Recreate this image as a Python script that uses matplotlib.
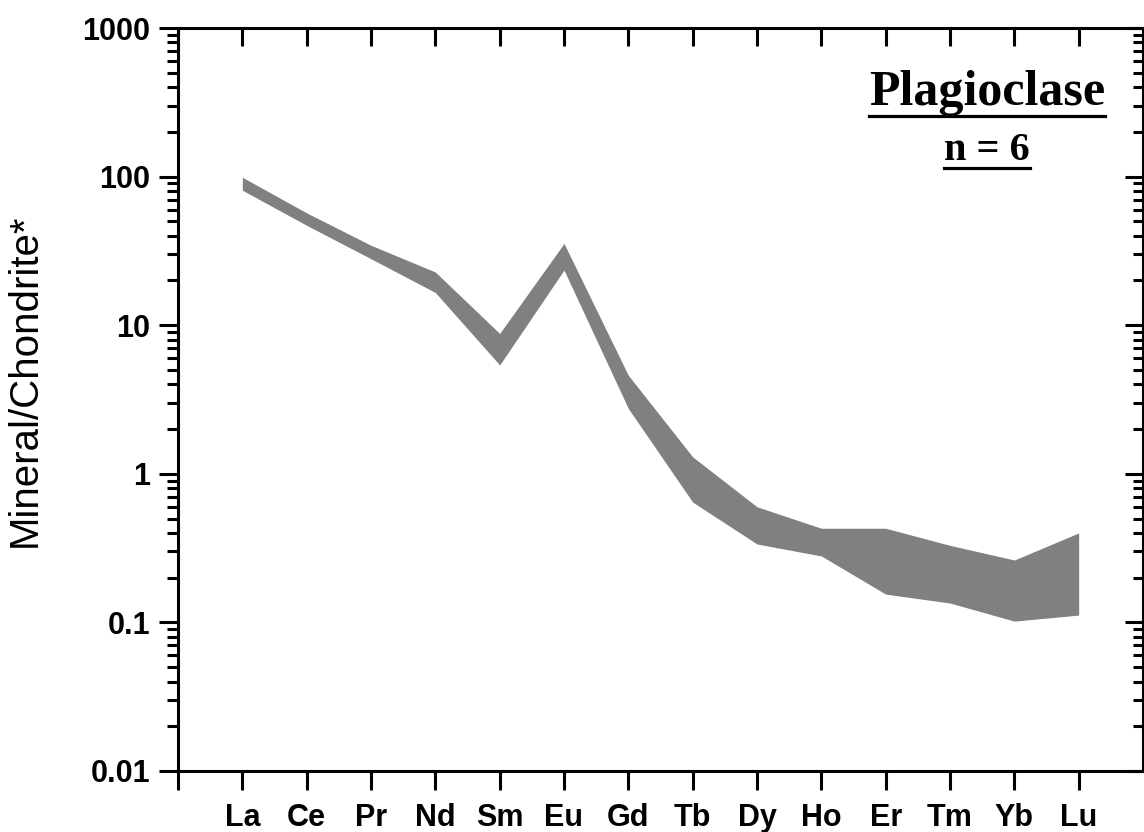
import numpy as np
import matplotlib
matplotlib.use('Agg')
import matplotlib.pyplot as plt
from matplotlib.ticker import LogLocator, NullFormatter, FixedLocator
from matplotlib.lines import Line2D

# REE pattern envelope for plagioclase (chondrite-normalised)
elements = ['La', 'Ce', 'Pr', 'Nd', 'Sm', 'Eu', 'Gd', 'Tb', 'Dy', 'Ho', 'Er', 'Tm', 'Yb', 'Lu']
upper = [99, 57, 34.5, 22.8, 8.8, 35.5, 4.6, 1.30, 0.60, 0.43, 0.43, 0.33, 0.263, 0.40]
lower = [81, 47, 28.0, 16.6, 5.4, 23.5, 2.75, 0.645, 0.337, 0.28, 0.155, 0.135, 0.102, 0.112]
y_ticks = [0.01, 0.1, 1, 10, 100, 1000]
y_tick_labels = ['0.01', '0.1', '1', '10', '100', '1000']

W, H = 1144, 832
fig = plt.figure(figsize=(W / 100, H / 100), dpi=100)
ax = fig.add_axes([178 / W, 1 - 771 / H, 965 / W, 743 / H])

x = np.arange(1, len(elements) + 1)
ax.fill_between(x, lower, upper, color='#808080', linewidth=0)

ax.set_yscale('log')
ax.set_ylim(0.01, 1000)
ax.set_xlim(0, 15)

lw = 2.2
for s in ax.spines.values():
    s.set_linewidth(lw)

tick_font = {'family': 'Liberation Sans', 'weight': 'bold', 'size': 22}

ax.set_xticks(np.arange(0, 15))
ax.set_xticklabels([''] + elements, fontdict=tick_font)
ax.set_yticks(y_ticks)
ax.set_yticklabels(y_tick_labels, fontdict=tick_font)
ax.yaxis.set_minor_locator(LogLocator(base=10, subs=np.arange(2, 10), numticks=20))
ax.yaxis.set_minor_formatter(NullFormatter())
ax.tick_params(axis='x', which='major', direction='out', length=14, width=lw, pad=9)
ax.tick_params(axis='y', which='major', direction='out', length=14, width=lw, pad=6)
ax.tick_params(axis='y', which='minor', direction='out', length=8, width=lw)

# right axis: inward ticks
ax_r = ax.twinx()
ax_r.set_yscale('log')
ax_r.set_ylim(0.01, 1000)
ax_r.set_yticks(y_ticks)
ax_r.yaxis.set_minor_locator(LogLocator(base=10, subs=np.arange(2, 10), numticks=20))
ax_r.yaxis.set_minor_formatter(NullFormatter())
ax_r.tick_params(axis='y', which='major', direction='in', length=13, width=lw, labelright=False)
ax_r.tick_params(axis='y', which='minor', direction='in', length=7, width=lw)

# top axis: inward ticks at the element positions
ax_t = ax.twiny()
ax_t.set_xlim(0, 15)
ax_t.xaxis.set_major_locator(FixedLocator(np.arange(0, 15)))
ax_t.tick_params(axis='x', which='major', direction='in', length=13, width=lw, labeltop=False)

fig.text(25 / W, 1 - 380 / H, 'Mineral/Chondrite*', rotation=90, ha='center', va='center',
         family=['Liberation Sans Narrow', 'Liberation Sans'], size=29)

# title with underlines
t1 = fig.text(987 / W, 1 - 105 / H, 'Plagioclase', ha='center', va='baseline',
              family='Liberation Serif', weight='bold', size=36)
t2 = fig.text(987 / W, 1 - 160 / H, 'n = 6', ha='center', va='baseline',
              family='Liberation Serif', weight='bold', size=29)
fig.canvas.draw()
r = fig.canvas.get_renderer()
for t, yb in [(t1, 116), (t2, 168)]:
    bb = t.get_window_extent(r)
    fig.add_artist(Line2D([bb.x0 / W, bb.x1 / W], [1 - yb / H, 1 - yb / H],
                          transform=fig.transFigure, color='black', linewidth=2.3))

fig.savefig('out.png', dpi=100)
